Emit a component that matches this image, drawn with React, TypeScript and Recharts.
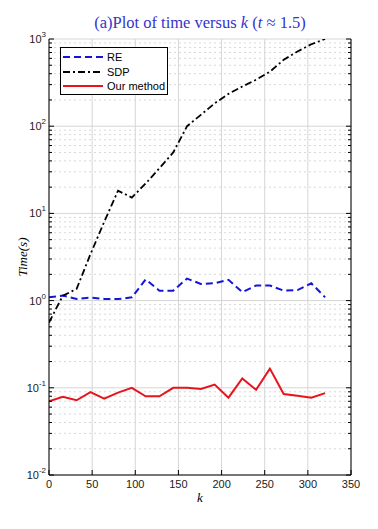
import React from "react";
import { LineChart, Line, XAxis, YAxis, CartesianGrid, Legend } from "recharts";

// k values (x) and timing results
const kValues = [0, 16, 32, 48, 64, 80, 96, 112, 128, 144, 160, 176, 192, 208, 224, 240, 256, 272, 288, 304, 320];
const reTimes = [1.09, 1.14, 1.045, 1.08, 1.045, 1.04, 1.09, 1.75, 1.3, 1.3, 1.79, 1.55, 1.58, 1.73, 1.25, 1.49, 1.49, 1.3, 1.32, 1.58, 1.09];
const sdpTimes = [0.56, 1.14, 1.36, 3.4, 8.0, 18.2, 15.2, 22, 33, 50, 100, 135, 183, 235, 285, 341, 422, 577, 719, 871, 1000];
const ourTimes = [0.07, 0.079, 0.072, 0.089, 0.075, 0.088, 0.1, 0.08, 0.08, 0.1, 0.1, 0.097, 0.109, 0.077, 0.128, 0.095, 0.166, 0.085, 0.081, 0.077, 0.087];

const xTicks = [0, 50, 100, 150, 200, 250, 300, 350];
const decadeTicks = [0.01, 0.1, 1, 10, 100, 1000];
const minorSteps = [2, 3, 4, 5, 6, 7, 8, 9];
const minorTicks = decadeTicks
  .slice(0, -1)
  .flatMap((d) => minorSteps.map((m) => +(d * m).toPrecision(3)));
const allYTicks = [...decadeTicks, ...minorTicks].sort((a, b) => a - b);

const series = [
  { key: "re", name: "RE", color: "#1515d8", width: 2, dash: "7 4" },
  { key: "sdp", name: "SDP", color: "#000000", width: 1.8, dash: "7 3 2 3" },
  { key: "ours", name: "Our method", color: "#e8141c", width: 2, dash: undefined },
];

const data = kValues.map((k, i) => ({ k, re: reTimes[i], sdp: sdpTimes[i], ours: ourTimes[i] }));

const sans = "'Liberation Sans', Arial, Helvetica, sans-serif";
const serif = "'Liberation Serif', 'Times New Roman', serif";

const isMajor = (v: number) => decadeTicks.includes(v);

function LeftTick({ x, y, payload }: any) {
  const v = payload.value;
  const major = isMajor(v);
  return (
    <g>
      <line x1={x} x2={x + (major ? 5 : 3)} y1={y} y2={y} stroke="#000" />
      {major && (
        <text x={x - 3} y={y + 4} textAnchor="end" fontSize={11} fill="#222" fontFamily={sans}>
          10
          <tspan dy={-6} fontSize={8}>
            {Math.round(Math.log10(v))}
          </tspan>
        </text>
      )}
    </g>
  );
}

function RightTick({ x, y, payload }: any) {
  const major = isMajor(payload.value);
  return <line x1={x} x2={x - (major ? 5 : 3)} y1={y} y2={y} stroke="#000" />;
}

function BottomTick({ x, y, payload }: any) {
  return (
    <g>
      <line x1={x} x2={x} y1={y} y2={y - 5} stroke="#000" />
      <text x={x} y={y + 13} textAnchor="middle" fontSize={11} fill="#222" fontFamily={sans}>
        {payload.value}
      </text>
    </g>
  );
}

function TopTick({ x, y }: any) {
  return <line x1={x} x2={x} y1={y} y2={y + 5} stroke="#000" />;
}

function LegendBox({ payload }: any) {
  const present = (payload || []).map((item: any) => item.dataKey);
  return (
    <div
      style={{
        border: "1px solid #000",
        background: "#fff",
        width: 106,
        height: 44,
        paddingTop: 2,
        boxSizing: "content-box",
      }}
    >
      {series
        .filter((s) => present.length === 0 || present.includes(s.key))
        .map((s) => (
          <div key={s.key} style={{ display: "flex", alignItems: "center", height: 14.5 }}>
            <svg width={44} height={6} style={{ marginLeft: 2 }}>
              <line x1={0} x2={40} y1={3} y2={3} stroke={s.color} strokeWidth={s.width} strokeDasharray={s.dash} />
            </svg>
            <span style={{ fontFamily: sans, fontSize: 11, color: "#000", lineHeight: "12px" }}>{s.name}</span>
          </div>
        ))}
    </div>
  );
}

export default function App() {
  return (
    <div style={{ position: "absolute", left: 0, top: 0, width: 378, height: 529, background: "#fff" }}>
      <div
        style={{
          position: "absolute",
          left: 22,
          width: 356,
          top: 15,
          textAlign: "center",
          fontFamily: serif,
          fontSize: 16.5,
          lineHeight: "16px",
          color: "#3434cc",
        }}
      >
        (a)Plot of time versus <i>k</i> (<i>t</i> ≈ 1.5)
      </div>
      <LineChart width={378} height={529} data={data} margin={{ top: 39, right: 0, bottom: 0, left: 0 }}>
        <CartesianGrid
          horizontalValues={minorTicks}
          vertical={false}
          stroke="#d8d8d8"
          strokeDasharray="2 3"
        />
        <CartesianGrid horizontalValues={decadeTicks} stroke="#d6d6d6" />
        <XAxis
          dataKey="k"
          type="number"
          domain={[0, 350]}
          ticks={xTicks}
          interval={0}
          allowDataOverflow
          height={54}
          tickSize={0}
          tickMargin={0}
          tickLine={false}
          axisLine={{ stroke: "#000" }}
          tick={<BottomTick />}
          label={{
            content: (p: any) => {
              const vb = p.viewBox || {};
              return (
                <text
                  x={vb.x + vb.width / 2}
                  y={vb.y + 27}
                  textAnchor="middle"
                  fontFamily={serif}
                  fontStyle="italic"
                  fontSize={13}
                  fill="#000"
                >
                  k
                </text>
              );
            },
          }}
        />
        <XAxis
          xAxisId="top"
          orientation="top"
          type="number"
          domain={[0, 350]}
          ticks={xTicks}
          interval={0}
          allowDataOverflow
          height={0}
          tickSize={0}
          tickMargin={0}
          tickLine={false}
          axisLine={{ stroke: "#000" }}
          tick={<TopTick />}
        />
        <YAxis
          scale="log"
          type="number"
          domain={[0.01, 1000]}
          ticks={allYTicks}
          interval={0}
          allowDataOverflow
          width={49}
          tickSize={0}
          tickMargin={0}
          tickLine={false}
          axisLine={{ stroke: "#000" }}
          tick={<LeftTick />}
          label={{
            content: (p: any) => {
              const vb = p.viewBox || {};
              const cx = vb.x + 27;
              const cy = vb.y + vb.height / 2;
              return (
                <text
                  x={cx}
                  y={cy}
                  transform={`rotate(-90 ${cx} ${cy})`}
                  textAnchor="middle"
                  fontFamily={serif}
                  fontStyle="italic"
                  fontSize={13}
                  fill="#000"
                >
                  Time(s)
                </text>
              );
            },
          }}
        />
        <YAxis
          yAxisId="right"
          orientation="right"
          scale="log"
          type="number"
          domain={[0.01, 1000]}
          ticks={allYTicks}
          interval={0}
          allowDataOverflow
          width={27}
          tickSize={0}
          tickMargin={0}
          tickLine={false}
          axisLine={{ stroke: "#000" }}
          tick={<RightTick />}
        />
        <Legend
          layout="vertical"
          align="center"
          verticalAlign="middle"
          wrapperStyle={{ position: "absolute", left: 60, top: 47, width: 108, height: 46 }}
          content={<LegendBox />}
        />
        {series.map((s) => (
          <Line
            key={s.key}
            dataKey={s.key}
            name={s.name}
            type="linear"
            stroke={s.color}
            strokeWidth={s.width}
            strokeDasharray={s.dash}
            dot={false}
            activeDot={false}
            isAnimationActive={false}
          />
        ))}
      </LineChart>
    </div>
  );
}
